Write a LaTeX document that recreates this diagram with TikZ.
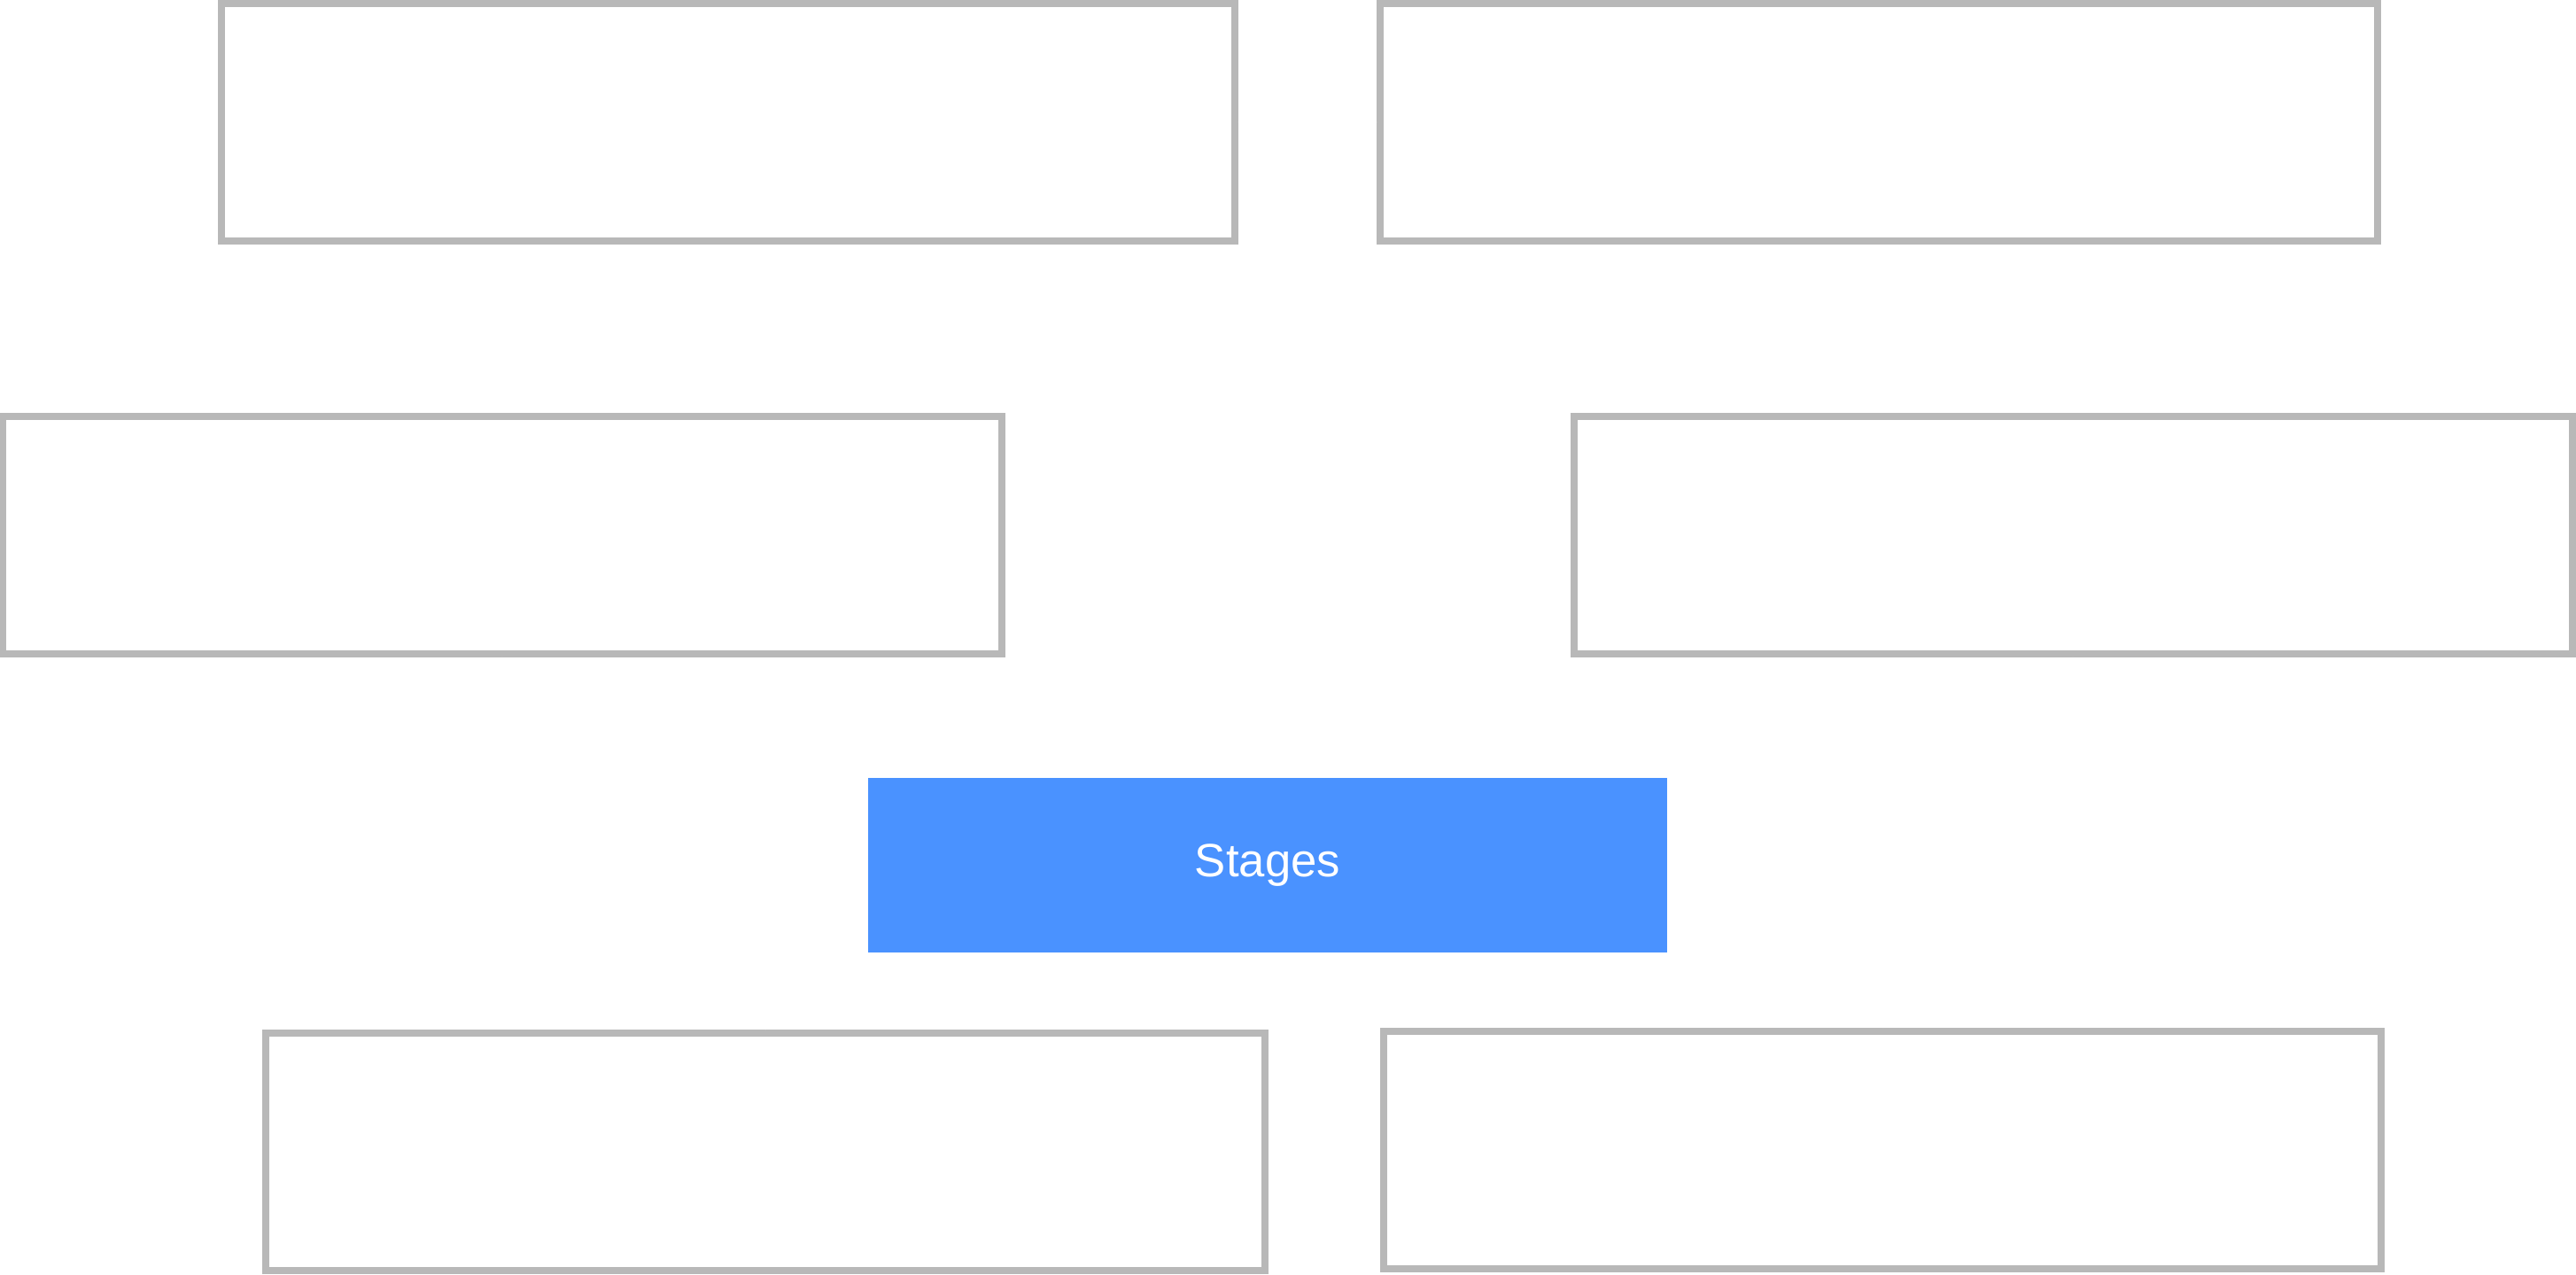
\documentclass[tikz,border=0pt]{standalone}
\usepackage{fontspec}
\setsansfont{Liberation Sans}
\usetikzlibrary{arrows.meta}
\definecolor{framegray}{HTML}{B8B8B8}
\definecolor{stageblue}{HTML}{4A92FF}

\begin{document}
\begin{tikzpicture}[
		panel/.style={draw=framegray, line width=0.08cm, fill=white, inner sep=0pt, minimum height=2.68cm},
		stagebox/.style={fill=stageblue, inner sep=0pt, text=white, minimum width=9.02cm, minimum height=1.97cm, font=\sffamily\fontsize{15}{18}\selectfont},
		wire/.style={draw=white, line width=0.6pt, {Circle[length=2.2pt]}-{Circle[length=2.2pt]}}
	]
		%%%%% START %%%%%
		
		\useasboundingbox (0, 0) rectangle (29.08, -14.38);
		
		\node[panel, minimum width=11.44cm] (topleft) at (8.22, -1.38) {};
		\node[panel, minimum width=11.26cm] (topright) at (21.21, -1.38) {};
		
		\node[panel, minimum width=11.27cm] (midleft) at (5.67, -6.04) {};
		\node[panel, minimum width=11.27cm] (midright) at (23.40, -6.04) {};
		
		\node[stagebox] (stages) at (14.31, -9.765) {Stages};
		
		\node[panel, minimum width=11.28cm] (botleft) at (8.64, -13.00) {};
		\node[panel, minimum width=11.26cm] (botright) at (21.25, -12.98) {};
		
		\coordinate (uplink) at (stages.north |- topleft.east);
		
		\draw[wire] (topleft.east) -- (topright.west);
		\draw[wire] (stages.north) -- (uplink);
		\draw[wire] (midleft.south) |- (stages.west);
		\draw[wire] (midright.south) |- (stages.east);
		\draw[wire] (stages.south) -- ++(0, -0.4) -| (botleft.north);
		\draw[wire] (stages.south) -- ++(0, -0.4) -| (botright.north);
		
		%%%%% END %%%%%
	\end{tikzpicture}
\end{document}
